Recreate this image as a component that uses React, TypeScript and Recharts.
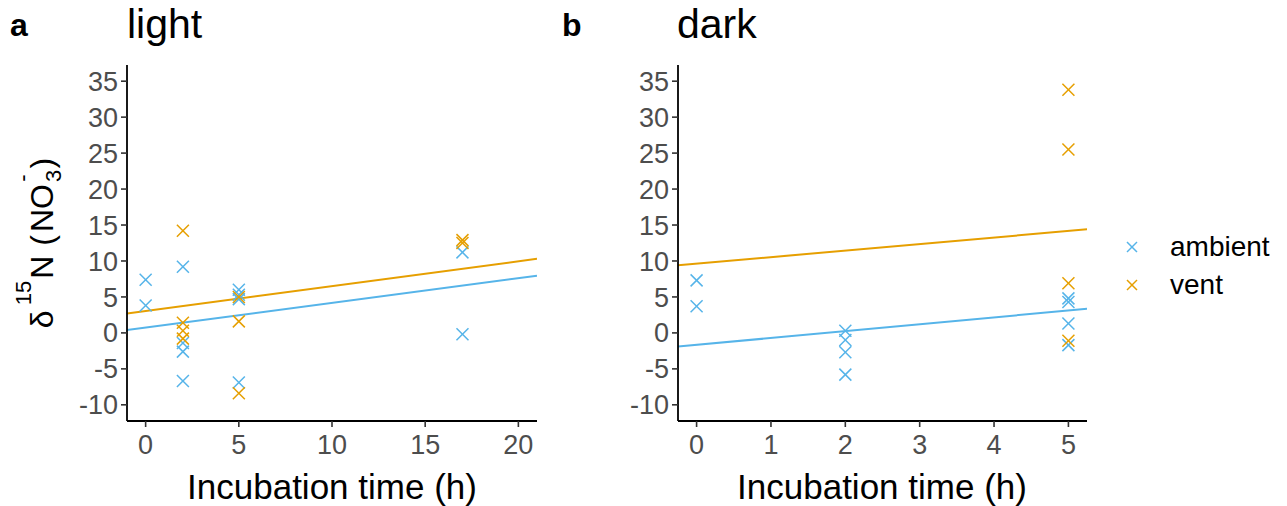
import React from 'react';
import { ComposedChart, Scatter, Line, XAxis, YAxis } from 'recharts';

const BLUE = '#56B4E9';
const ORANGE = '#E69F00';
const FONT = '"Liberation Sans", Arial, sans-serif';

const yTicks = [-10, -5, 0, 5, 10, 15, 20, 25, 30, 35];
const lightXTicks = [0, 5, 10, 15, 20];
const darkXTicks = [0, 1, 2, 3, 4, 5];

const lightAmbient = [
  { x: 0, y: 7.4 }, { x: 0, y: 3.8 },
  { x: 2, y: 9.2 }, { x: 2, y: -1.4 }, { x: 2, y: -2.6 }, { x: 2, y: -6.7 },
  { x: 5, y: 6.0 }, { x: 5, y: 5.3 }, { x: 5, y: 4.7 }, { x: 5, y: -6.9 },
  { x: 17, y: 11.2 }, { x: 17, y: -0.2 },
];
const lightVent = [
  { x: 2, y: 14.2 }, { x: 2, y: 1.4 }, { x: 2, y: 0.3 }, { x: 2, y: -0.8 },
  { x: 5, y: 5.0 }, { x: 5, y: 1.6 }, { x: 5, y: -8.4 },
  { x: 17, y: 12.9 }, { x: 17, y: 12.5 },
];
const lightAmbientFit = [{ x: -1, y: 0.4 }, { x: 21, y: 7.95 }];
const lightVentFit = [{ x: -1, y: 2.7 }, { x: 21, y: 10.3 }];

const darkAmbient = [
  { x: 0, y: 7.3 }, { x: 0, y: 3.7 },
  { x: 2, y: 0.3 }, { x: 2, y: -1.0 }, { x: 2, y: -2.7 }, { x: 2, y: -5.8 },
  { x: 5, y: 4.8 }, { x: 5, y: 4.3 }, { x: 5, y: 1.3 }, { x: 5, y: -1.7 },
];
const darkVent = [
  { x: 5, y: 33.8 }, { x: 5, y: 25.5 }, { x: 5, y: 6.9 }, { x: 5, y: -1.1 },
];
const darkAmbientFit = [{ x: -0.25, y: -1.9 }, { x: 5.25, y: 3.35 }];
const darkVentFit = [{ x: -0.25, y: 9.4 }, { x: 5.25, y: 14.4 }];

const Cross = ({ cx, cy, color, r = 6 }: any) => (
  <g>
    <line x1={cx - r} y1={cy - r} x2={cx + r} y2={cy + r} stroke={color} strokeWidth={1.5} />
    <line x1={cx - r} y1={cy + r} x2={cx + r} y2={cy - r} stroke={color} strokeWidth={1.5} />
  </g>
);

const tickStyle = { fill: '#4D4D4D', fontSize: 27, fontFamily: FONT };
const axisLineStyle = { stroke: '#000', strokeWidth: 1.8 };
const tickLineStyle = { stroke: '#333', strokeWidth: 1.6 };

const XTitle = (cx: number) => () => (
  <text x={cx} y={499} textAnchor="middle" fontSize={35} fontFamily={FONT} fill="#000">
    Incubation time (h)
  </text>
);

const YLabel = () => (
  <g transform="translate(53,243) rotate(-90)">
    <text x={0} y={0} textAnchor="middle" fontSize={32} fontFamily={FONT} fill="#000">
      <tspan>δ</tspan>
      <tspan dx={5} dy={-22} fontSize={22}>15</tspan>
      <tspan dx={2} dy={22}>N</tspan>
      <tspan dx={10}>(</tspan>
      <tspan dx={3}>NO</tspan>
      <tspan dx={2} dy={8} fontSize={22}>3</tspan>
      <tspan dx={-12} dy={-31} fontSize={22}>-</tspan>
      <tspan dx={6} dy={23}>)</tspan>
    </text>
  </g>
);

type PanelProps = {
  left: number;
  width: number;
  yAxisWidth: number;
  rightMargin: number;
  domain: [number, number];
  xTicks: number[];
  ambient: { x: number; y: number }[];
  vent: { x: number; y: number }[];
  ambientFit: { x: number; y: number }[];
  ventFit: { x: number; y: number }[];
  titleCx: number;
  withYLabel: boolean;
};

const Panel = (p: PanelProps) => (
  <div style={{ position: 'absolute', left: p.left, top: 0 }}>
    <ComposedChart
      width={p.width}
      height={506}
      margin={{ top: 65, right: p.rightMargin, bottom: 0, left: 0 }}
    >
      <XAxis
        type="number"
        dataKey="x"
        domain={p.domain}
        ticks={p.xTicks}
        interval={0}
        allowDataOverflow
        height={85}
        tick={tickStyle}
        tickSize={6}
        tickMargin={8}
        axisLine={axisLineStyle}
        tickLine={tickLineStyle}
        label={{ content: XTitle(p.titleCx) }}
      />
      <YAxis
        type="number"
        dataKey="y"
        domain={[-12.25, 37.25]}
        ticks={yTicks}
        interval={0}
        allowDataOverflow
        width={p.yAxisWidth}
        tick={tickStyle}
        tickSize={6}
        tickMargin={3}
        axisLine={axisLineStyle}
        tickLine={tickLineStyle}
        label={p.withYLabel ? { content: YLabel } : undefined}
      />
      <Line
        data={p.ambientFit}
        dataKey="y"
        stroke={BLUE}
        strokeWidth={2}
        dot={false}
        activeDot={false}
        isAnimationActive={false}
      />
      <Line
        data={p.ventFit}
        dataKey="y"
        stroke={ORANGE}
        strokeWidth={2}
        dot={false}
        activeDot={false}
        isAnimationActive={false}
      />
      <Scatter
        data={p.ambient}
        dataKey="y"
        isAnimationActive={false}
        shape={(s: any) => <Cross cx={s.cx} cy={s.cy} color={BLUE} />}
      />
      <Scatter
        data={p.vent}
        dataKey="y"
        isAnimationActive={false}
        shape={(s: any) => <Cross cx={s.cx} cy={s.cy} color={ORANGE} />}
      />
    </ComposedChart>
  </div>
);

const LegendItem = ({ color, label, top }: any) => (
  <div style={{ position: 'absolute', left: 1120, top, height: 30, display: 'flex', alignItems: 'center' }}>
    <svg width={24} height={24} style={{ display: 'block' }}>
      <Cross cx={12} cy={12} color={color} r={5} />
    </svg>
    <span style={{ marginLeft: 26, fontSize: 28, fontFamily: FONT, color: '#000', lineHeight: '30px' }}>{label}</span>
  </div>
);

export default function App() {
  return (
    <div style={{ position: 'absolute', left: 0, top: 0, width: 1287, height: 506, background: '#fff', overflow: 'hidden' }}>
      <Panel
        left={0}
        width={560}
        yAxisWidth={127}
        rightMargin={23}
        domain={[-1, 21]}
        xTicks={lightXTicks}
        ambient={lightAmbient}
        vent={lightVent}
        ambientFit={lightAmbientFit}
        ventFit={lightVentFit}
        titleCx={332}
        withYLabel
      />
      <Panel
        left={560}
        width={727}
        yAxisWidth={118}
        rightMargin={200}
        domain={[-0.25, 5.25]}
        xTicks={darkXTicks}
        ambient={darkAmbient}
        vent={darkVent}
        ambientFit={darkAmbientFit}
        ventFit={darkVentFit}
        titleCx={322}
        withYLabel={false}
      />
      <div style={{ position: 'absolute', left: 10, top: 5, fontFamily: FONT, fontWeight: 'bold', fontSize: 32, lineHeight: '40px' }}>a</div>
      <div style={{ position: 'absolute', left: 127, top: -1, fontFamily: FONT, fontSize: 41, lineHeight: '50px' }}>light</div>
      <div style={{ position: 'absolute', left: 562, top: 5, fontFamily: FONT, fontWeight: 'bold', fontSize: 32, lineHeight: '40px' }}>b</div>
      <div style={{ position: 'absolute', left: 677, top: -1, fontFamily: FONT, fontSize: 41, lineHeight: '50px' }}>dark</div>
      <LegendItem color={BLUE} label="ambient" top={232} />
      <LegendItem color={ORANGE} label="vent" top={270} />
    </div>
  );
}
